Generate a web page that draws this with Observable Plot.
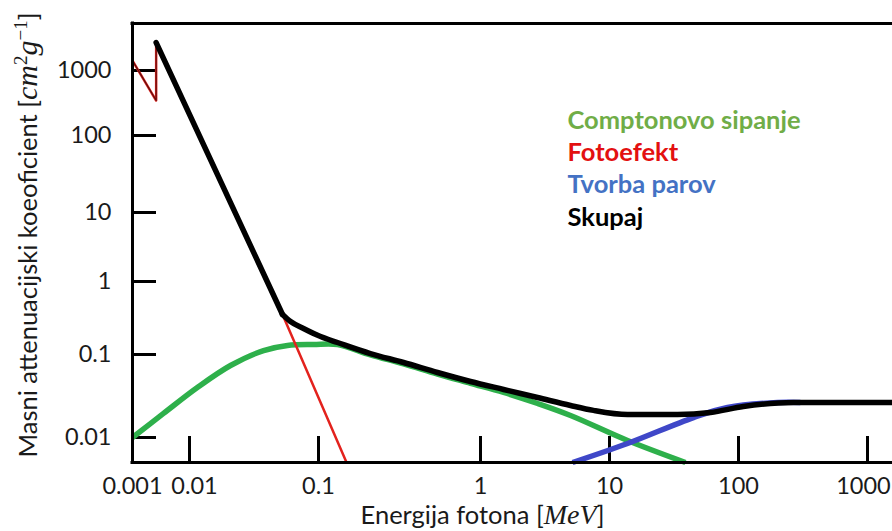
<!DOCTYPE html>
<html>
<head>
<meta charset="utf-8">
<script src="https://cdn.jsdelivr.net/npm/d3@7"></script>
<script src="https://cdn.jsdelivr.net/npm/@observablehq/plot@0.6"></script>
<style>
  html, body { margin: 0; padding: 0; background: #ffffff; }
  #chart svg { display: block; }
</style>
</head>
<body>
<div id="chart"></div>
<script>
// ---- Axis ticks / labels ----
const xTickValues = [0.01, 0.1, 1, 10, 100, 1000];
const xLabelValues = [0.001, 0.01, 0.1, 1, 10, 100, 1000];
const yTickValues = [0.01, 0.1, 1, 10, 100, 1000];
const xLabelText = "Energija fotona [MeV]";
const yLabelText = "Masni attenuacijski koeoficient [cm2g-1]";

// ---- Series (photon energy in MeV, mass attenuation coefficient in cm^2/g) ----
const comptonE  = [0.001, 0.0035, 0.0115, 0.0208, 0.0375, 0.0575, 0.0915, 0.131, 0.209, 0.335, 0.543, 0.867, 1.51, 2.77, 4.99, 13.8, 38.8];
const comptonMu = [0.01, 0.0195, 0.04, 0.0737, 0.113, 0.133, 0.137, 0.137, 0.099, 0.077, 0.058, 0.045, 0.0349, 0.0257, 0.0184, 0.0092, 0.005];

const photoE  = [0.001, 0.0026, 0.0026, 0.0526, 0.149];
const photoMu = [1400, 345, 2600, 0.353, 0.005];

const pairE  = [5.17, 13.8, 44.8, 82.2, 201, 302];
const pairMu = [0.005, 0.00847, 0.0174, 0.023, 0.0264, 0.0264];

const totalE  = [0.001, 0.0026, 0.0026, 0.0526, 0.0607, 0.0765, 0.103, 0.131, 0.209, 0.335, 0.543, 0.867, 1.51, 2.77, 4.99, 7.52, 13.8, 33.7, 60.7, 109, 267, 1500];
const totalMu = [1400, 345, 2600, 0.353, 0.283, 0.227, 0.176, 0.146, 0.103, 0.0801, 0.0607, 0.0473, 0.0379, 0.0303, 0.0243, 0.0212, 0.0189, 0.0189, 0.0200, 0.0236, 0.0264, 0.0264];

const seriesNames = ["Comptonovo sipanje", "Fotoefekt", "Tvorba parov", "Skupaj"];
const legendColors = ["#70ad47", "#e31010", "#4472c4", "#000000"];
const lineColors = {compton: "#2eb04b", photo: "#e3221d", pair: "#3f47c8", total: "#000000"};

// ---- Scale definitions (hand-drawn, piecewise logarithmic axes) ----
const xDomain = [0.001, 0.01, 0.1, 1, 10, 100, 1000, 1500];
const xRange  = [132, 189, 318, 480, 609, 738, 867, 892];
const yDomain = [0.005, 0.01, 0.1, 1, 10, 100, 1000, 5000];
const yRange  = [462, 437, 354, 281, 212, 135, 70, 23];

const toRows = (E, M) => E.map((e, i) => ({e, mu: M[i]}));
const compton = toRows(comptonE, comptonMu);
const photo = toRows(photoE, photoMu);
const pair = toRows(pairE, pairMu);
const total = toRows(totalE, totalMu);
const totalPreEdge = total.slice(0, 3);   // thin part below the K-edge
const totalDrop = total.slice(2, 4);      // straight fall after the edge
const totalTail = total.slice(3);         // smooth part

const chart = Plot.plot({
  width: 892,
  height: 531,
  marginLeft: 132,
  marginTop: 23,
  marginRight: 0,
  marginBottom: 69,
  style: {fontFamily: "Lato, 'Open Sans', sans-serif", fontSize: "23.5px", color: "#1a1a1a", background: "#ffffff"},
  x: {type: "log", domain: xDomain, range: xRange},
  y: {type: "log", domain: yDomain, range: yRange},
  marks: [
    // inward ticks
    Plot.ruleX(xTickValues, {stroke: "#000", strokeWidth: 3, insetTop: 413}),
    Plot.ruleY(yTickValues, {stroke: "#000", strokeWidth: 3, insetRight: 736}),
    // curves
    Plot.line(compton, {x: "e", y: "mu", stroke: lineColors.compton, strokeWidth: 5.5, curve: "catmull-rom", strokeLinecap: "butt"}),
    Plot.line(photo, {x: "e", y: "mu", stroke: lineColors.photo, strokeWidth: 2.5, strokeLinecap: "butt"}),
    Plot.line(pair, {x: "e", y: "mu", stroke: lineColors.pair, strokeWidth: 5.5, curve: "catmull-rom", strokeLinecap: "butt"}),
    Plot.line(totalPreEdge, {x: "e", y: "mu", stroke: "#3a0a0a", strokeWidth: 1.2, strokeOpacity: 0.8}),
    Plot.line(totalDrop, {x: "e", y: "mu", stroke: lineColors.total, strokeWidth: 5.5}),
    Plot.line(totalTail, {x: "e", y: "mu", stroke: lineColors.total, strokeWidth: 5.5, curve: "monotone-x"}),
    // frame (left, top, bottom)
    Plot.ruleX([xDomain[0]], {stroke: "#000", strokeWidth: 3, strokeLinecap: "square"}),
    Plot.ruleY([yDomain[0], yDomain[yDomain.length - 1]], {stroke: "#000", strokeWidth: 3, strokeLinecap: "square"}),
    // tick labels
    Plot.axisX({ticks: xLabelValues, tickSize: 0, tickPadding: 15, tickFormat: d => String(d), label: null, fill: "#1a1a1a"}),
    Plot.axisY({ticks: yTickValues, tickSize: 0, tickPadding: 21, tickFormat: d => String(d), label: null, fill: "#1a1a1a"}),
    // axis titles
    Plot.text([xLabelText], {text: d => d, frameAnchor: "bottom", textAnchor: "middle", lineAnchor: "middle", dx: -30, dy: 53, fontSize: 25.5, fill: "#1a1a1a"}),
    Plot.text([yLabelText], {text: d => d, frameAnchor: "left", textAnchor: "middle", lineAnchor: "middle", rotate: -90, dx: -104, dy: -8, fontSize: 25.5, fill: "#1a1a1a"}),
    // in-chart legend
    ...seriesNames.map((name, i) => Plot.text([name], {
      text: d => d, frameAnchor: "top-left", dx: 435, dy: 97 + i * 32.3,
      textAnchor: "start", lineAnchor: "middle", fill: legendColors[i], fontWeight: "bold", fontSize: 25.5
    }))
  ]
});

document.getElementById("chart").appendChild(chart);

// Nudge crowded / edge tick labels the way the original places them.
const labelNudge = {"0.01": 5, "1000": -4};
d3.select(chart).selectAll("g[aria-label='x-axis tick label'] text").each(function() {
  const n = labelNudge[this.textContent];
  if (n) d3.select(this).attr("dx", n);
});

// Render the math parts of the axis titles in italic serif, as in the original.
function richLabel(content, parts, italicSize) {
  d3.select(chart).selectAll("text").filter(function() { return this.textContent === content; })
    .each(function() {
      const t = d3.select(this);
      t.text(null);
      for (const p of parts) {
        const s = t.append("tspan").text(p.t);
        if (p.italic) s.attr("font-family", "'Liberation Serif', 'DejaVu Serif', serif").attr("font-style", "italic").attr("font-size", italicSize);
        if (p.sup) s.attr("font-family", "'Liberation Serif', 'DejaVu Serif', serif").attr("font-size", 19).attr("baseline-shift", "super");
      }
    });
}
richLabel(xLabelText, [{t: "Energija fotona ["}, {t: "MeV", italic: true}, {t: "]"}], 28);
richLabel(yLabelText, [{t: "Masni attenuacijski koeoficient ["}, {t: "cm", italic: true}, {t: "2", sup: true}, {t: "g", italic: true}, {t: "\u22121", sup: true}, {t: "]"}], 30);
</script>
</body>
</html>
